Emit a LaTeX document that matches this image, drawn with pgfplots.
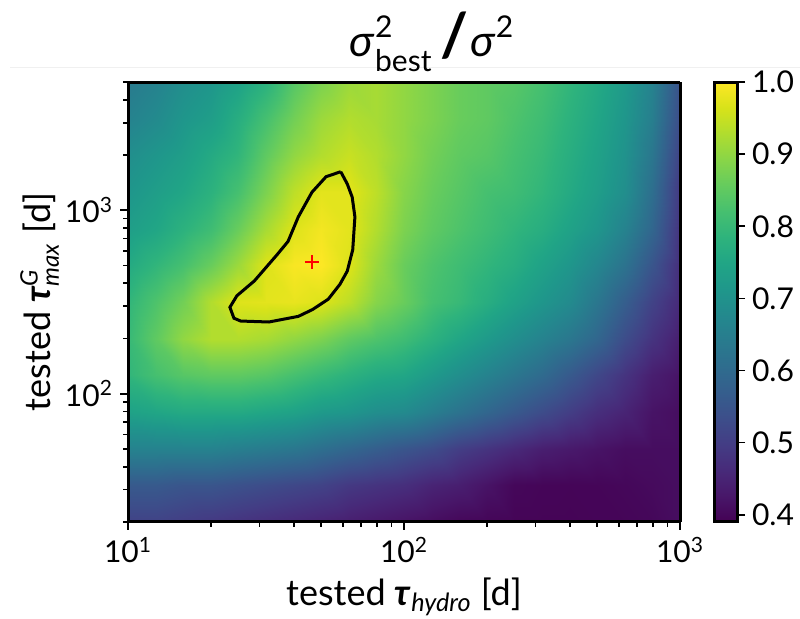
\documentclass[border=0pt]{standalone}
\usepackage{pgfplots}
\pgfplotsset{compat=1.18}
\usepackage{fontspec}
\setmainfont{Lato}
\definecolor{faint}{rgb}{0.94,0.94,0.94}
\begin{document}
\begin{tikzpicture}
\useasboundingbox (0,0) rectangle (400pt,309.5pt);
\draw[faint, line width=0.5pt] (5pt,275.5pt) -- (400pt,275.5pt);
\node[anchor=base] at (216pt,281pt) {\fontsize{22}{26}\selectfont $\mbox{\textit{σ}}^{\mbox{\fontsize{15}{18}\selectfont\raisebox{2pt}{2}}}_{\mbox{\fontsize{15}{18}\selectfont\raisebox{-2pt}{best}}}\hspace{4pt}\mbox{\fontsize{30}{34}\selectfont\bfseries /}\hspace{1pt}\mbox{\textit{σ}}^{\mbox{\fontsize{15}{18}\selectfont\raisebox{2pt}{2}}}$};
\begin{axis}[
  at={(64pt,48.5pt)}, anchor=south west,
  scale only axis, width=276pt, height=220pt,
  xmode=log, ymode=log,
  xmin=10, xmax=1000, ymin=20, ymax=5000,
  view={0}{90},
  axis on top,
  colormap/viridis,
  point meta min=0.39, point meta max=1.0,
  axis line style={line width=1.5pt},
  tick align=outside,
  xtick pos=left, ytick pos=left,
  major tick length=4pt, minor tick length=2.3pt,
  every tick/.style={black, line width=0.8pt},
  xtick={10,100,1000},
  xticklabels={10\textsuperscript{1},10\textsuperscript{2},10\textsuperscript{3}},
  ytick={100,1000},
  yticklabels={10\textsuperscript{2},10\textsuperscript{3}},
  minor xtick={20,30,40,50,60,70,80,90,200,300,400,500,600,700,800,900},
  minor ytick={20,30,40,50,60,70,80,90,200,300,400,500,600,700,800,900,2000,3000,4000,5000},
  ticklabel style={font=\fontsize{15}{18}\selectfont},
  xlabel={tested \textbf{\textit{τ}}\textsubscript{\textit{hydro}} [d]},
  ylabel={tested $\mbox{\textbf{\textit{τ}}}^{\mbox{\fontsize{12}{14}\selectfont\textit{G}}}_{\mbox{\fontsize{12}{14}\selectfont\textit{max}}}$ [d]},
  label style={font=\fontsize{18}{22}\selectfont},
  xlabel style={at={(axis description cs:0.5,-0.17)}, anchor=center},
  ylabel style={at={(axis description cs:-0.16,0.5)}, anchor=center},
  colorbar,
  colorbar shift/.style={},
  colorbar style={
    at={(parent axis.north east)}, anchor=north west, xshift=17pt,
    scale only axis, width=11.5pt, height=220pt,
    ytick={0.4,0.5,0.6,0.7,0.8,0.9,1.0},
    yticklabels={0.4,0.5,0.6,0.7,0.8,0.9,1.0},
    tick align=outside, major tick length=4pt,
    ytick pos=right,
    yticklabel style={font=\fontsize{15}{18}\selectfont},
    axis line style={line width=1.5pt},
    every tick/.style={black, line width=0.8pt},
  },
]
\addplot3[surf, shader=interp, mesh/cols=21, mesh/rows=13] table[row sep=\\] {
x y z \\
10 19.95 0.51 \\ 12.59 19.95 0.51 \\ 15.85 19.95 0.50 \\ 19.95 19.95 0.49 \\ 25.12 19.95 0.48 \\ 31.62 19.95 0.47 \\ 39.81 19.95 0.46 \\
50.12 19.95 0.45 \\ 63.10 19.95 0.44 \\ 79.43 19.95 0.43 \\ 100 19.95 0.42 \\ 125.9 19.95 0.41 \\ 158.5 19.95 0.40 \\ 199.5 19.95 0.397 \\
251.2 19.95 0.395 \\ 316.2 19.95 0.395 \\ 398.1 19.95 0.395 \\ 501.2 19.95 0.396 \\ 631.0 19.95 0.397 \\ 794.3 19.95 0.40 \\ 1000 19.95 0.41 \\
10 31.62 0.56 \\ 12.59 31.62 0.56 \\ 15.85 31.62 0.55 \\ 19.95 31.62 0.55 \\ 25.12 31.62 0.54 \\ 31.62 31.62 0.53 \\ 39.81 31.62 0.52 \\
50.12 31.62 0.51 \\ 63.10 31.62 0.49 \\ 79.43 31.62 0.48 \\ 100 31.62 0.47 \\ 125.9 31.62 0.45 \\ 158.5 31.62 0.44 \\ 199.5 31.62 0.42 \\
251.2 31.62 0.40 \\ 316.2 31.62 0.397 \\ 398.1 31.62 0.396 \\ 501.2 31.62 0.397 \\ 631.0 31.62 0.40 \\ 794.3 31.62 0.405 \\ 1000 31.62 0.41 \\
10 50.12 0.66 \\ 12.59 50.12 0.66 \\ 15.85 50.12 0.66 \\ 19.95 50.12 0.66 \\ 25.12 50.12 0.65 \\ 31.62 50.12 0.64 \\ 39.81 50.12 0.63 \\
50.12 50.12 0.61 \\ 63.10 50.12 0.59 \\ 79.43 50.12 0.57 \\ 100 50.12 0.55 \\ 125.9 50.12 0.53 \\ 158.5 50.12 0.50 \\ 199.5 50.12 0.48 \\
251.2 50.12 0.46 \\ 316.2 50.12 0.44 \\ 398.1 50.12 0.43 \\ 501.2 50.12 0.42 \\ 631.0 50.12 0.41 \\ 794.3 50.12 0.41 \\ 1000 50.12 0.41 \\
10 79.43 0.74 \\ 12.59 79.43 0.75 \\ 15.85 79.43 0.76 \\ 19.95 79.43 0.76 \\ 25.12 79.43 0.76 \\ 31.62 79.43 0.75 \\ 39.81 79.43 0.74 \\
50.12 79.43 0.72 \\ 63.10 79.43 0.71 \\ 79.43 79.43 0.69 \\ 100 79.43 0.68 \\ 125.9 79.43 0.65 \\ 158.5 79.43 0.62 \\ 199.5 79.43 0.59 \\
251.2 79.43 0.56 \\ 316.2 79.43 0.53 \\ 398.1 79.43 0.50 \\ 501.2 79.43 0.47 \\ 631.0 79.43 0.45 \\ 794.3 79.43 0.42 \\ 1000 79.43 0.41 \\
10 125.9 0.79 \\ 12.59 125.9 0.82 \\ 15.85 125.9 0.84 \\ 19.95 125.9 0.85 \\ 25.12 125.9 0.85 \\ 31.62 125.9 0.84 \\ 39.81 125.9 0.82 \\
50.12 125.9 0.80 \\ 63.10 125.9 0.78 \\ 79.43 125.9 0.76 \\ 100 125.9 0.75 \\ 125.9 125.9 0.72 \\ 158.5 125.9 0.69 \\ 199.5 125.9 0.66 \\
251.2 125.9 0.63 \\ 316.2 125.9 0.60 \\ 398.1 125.9 0.56 \\ 501.2 125.9 0.52 \\ 631.0 125.9 0.48 \\ 794.3 125.9 0.44 \\ 1000 125.9 0.42 \\
10 199.5 0.80 \\ 12.59 199.5 0.85 \\ 15.85 199.5 0.90 \\ 19.95 199.5 0.93 \\ 25.12 199.5 0.93 \\ 31.62 199.5 0.92 \\ 39.81 199.5 0.90 \\
50.12 199.5 0.88 \\ 63.10 199.5 0.85 \\ 79.43 199.5 0.83 \\ 100 199.5 0.81 \\ 125.9 199.5 0.78 \\ 158.5 199.5 0.75 \\ 199.5 199.5 0.72 \\
251.2 199.5 0.69 \\ 316.2 199.5 0.66 \\ 398.1 199.5 0.63 \\ 501.2 199.5 0.59 \\ 631.0 199.5 0.53 \\ 794.3 199.5 0.48 \\ 1000 199.5 0.44 \\
10 316.2 0.79 \\ 12.59 316.2 0.83 \\ 15.85 316.2 0.87 \\ 19.95 316.2 0.93 \\ 25.12 316.2 0.97 \\ 31.62 316.2 0.975 \\ 39.81 316.2 0.98 \\
50.12 316.2 0.97 \\ 63.10 316.2 0.94 \\ 79.43 316.2 0.89 \\ 100 316.2 0.86 \\ 125.9 316.2 0.82 \\ 158.5 316.2 0.80 \\ 199.5 316.2 0.77 \\
251.2 316.2 0.74 \\ 316.2 316.2 0.71 \\ 398.1 316.2 0.68 \\ 501.2 316.2 0.63 \\ 631.0 316.2 0.57 \\ 794.3 316.2 0.51 \\ 1000 316.2 0.46 \\
10 501.2 0.76 \\ 12.59 501.2 0.79 \\ 15.85 501.2 0.82 \\ 19.95 501.2 0.86 \\ 25.12 501.2 0.91 \\ 31.62 501.2 0.97 \\ 39.81 501.2 0.995 \\
50.12 501.2 1.0 \\ 63.10 501.2 0.97 \\ 79.43 501.2 0.91 \\ 100 501.2 0.86 \\ 125.9 501.2 0.83 \\ 158.5 501.2 0.81 \\ 199.5 501.2 0.79 \\
251.2 501.2 0.77 \\ 316.2 501.2 0.74 \\ 398.1 501.2 0.71 \\ 501.2 501.2 0.67 \\ 631.0 501.2 0.62 \\ 794.3 501.2 0.55 \\ 1000 501.2 0.47 \\
10 794.3 0.73 \\ 12.59 794.3 0.75 \\ 15.85 794.3 0.78 \\ 19.95 794.3 0.81 \\ 25.12 794.3 0.86 \\ 31.62 794.3 0.92 \\ 39.81 794.3 0.97 \\
50.12 794.3 0.99 \\ 63.10 794.3 0.975 \\ 79.43 794.3 0.93 \\ 100 794.3 0.88 \\ 125.9 794.3 0.85 \\ 158.5 794.3 0.83 \\ 199.5 794.3 0.81 \\
251.2 794.3 0.79 \\ 316.2 794.3 0.77 \\ 398.1 794.3 0.74 \\ 501.2 794.3 0.71 \\ 631.0 794.3 0.66 \\ 794.3 794.3 0.59 \\ 1000 794.3 0.48 \\
10 1259 0.71 \\ 12.59 1259 0.73 \\ 15.85 1259 0.75 \\ 19.95 1259 0.78 \\ 25.12 1259 0.82 \\ 31.62 1259 0.88 \\ 39.81 1259 0.94 \\
50.12 1259 0.975 \\ 63.10 1259 0.975 \\ 79.43 1259 0.94 \\ 100 1259 0.89 \\ 125.9 1259 0.86 \\ 158.5 1259 0.84 \\ 199.5 1259 0.82 \\
251.2 1259 0.81 \\ 316.2 1259 0.79 \\ 398.1 1259 0.76 \\ 501.2 1259 0.73 \\ 631.0 1259 0.69 \\ 794.3 1259 0.61 \\ 1000 1259 0.49 \\
10 1995 0.69 \\ 12.59 1995 0.71 \\ 15.85 1995 0.73 \\ 19.95 1995 0.76 \\ 25.12 1995 0.79 \\ 31.62 1995 0.85 \\ 39.81 1995 0.90 \\
50.12 1995 0.93 \\ 63.10 1995 0.95 \\ 79.43 1995 0.93 \\ 100 1995 0.90 \\ 125.9 1995 0.87 \\ 158.5 1995 0.85 \\ 199.5 1995 0.84 \\
251.2 1995 0.82 \\ 316.2 1995 0.80 \\ 398.1 1995 0.77 \\ 501.2 1995 0.74 \\ 631.0 1995 0.70 \\ 794.3 1995 0.63 \\ 1000 1995 0.51 \\
10 3162 0.66 \\ 12.59 3162 0.68 \\ 15.85 3162 0.71 \\ 19.95 3162 0.73 \\ 25.12 3162 0.77 \\ 31.62 3162 0.82 \\ 39.81 3162 0.87 \\
50.12 3162 0.91 \\ 63.10 3162 0.93 \\ 79.43 3162 0.92 \\ 100 3162 0.90 \\ 125.9 3162 0.88 \\ 158.5 3162 0.86 \\ 199.5 3162 0.85 \\
251.2 3162 0.83 \\ 316.2 3162 0.81 \\ 398.1 3162 0.78 \\ 501.2 3162 0.75 \\ 631.0 3162 0.71 \\ 794.3 3162 0.65 \\ 1000 3162 0.53 \\
10 5012 0.64 \\ 12.59 5012 0.66 \\ 15.85 5012 0.69 \\ 19.95 5012 0.71 \\ 25.12 5012 0.74 \\ 31.62 5012 0.78 \\ 39.81 5012 0.84 \\
50.12 5012 0.88 \\ 63.10 5012 0.91 \\ 79.43 5012 0.92 \\ 100 5012 0.90 \\ 125.9 5012 0.88 \\ 158.5 5012 0.86 \\ 199.5 5012 0.85 \\
251.2 5012 0.84 \\ 316.2 5012 0.82 \\ 398.1 5012 0.79 \\ 501.2 5012 0.76 \\ 631.0 5012 0.72 \\ 794.3 5012 0.66 \\ 1000 5012 0.54 \\
};
\addplot[black, line width=1.5pt] coordinates {
(59.0,1622) (52.2,1524) (46.4,1254) (41.4,920) (38.0,676) (34.7,573) (28.7,412)
(24.8,342) (23.4,296) (24.2,258) (25.6,249) (32.4,246) (41.4,264) (46.7,288)
(53.2,328) (58.6,395) (62.3,466) (65.2,609) (66.4,920) (64.9,1180) (62.3,1391) (59.0,1622)
};
\addplot[only marks, mark=+, red, mark size=3.5pt, line width=1pt] coordinates {(46.4,521)};
\end{axis}
\end{tikzpicture}
\end{document}
